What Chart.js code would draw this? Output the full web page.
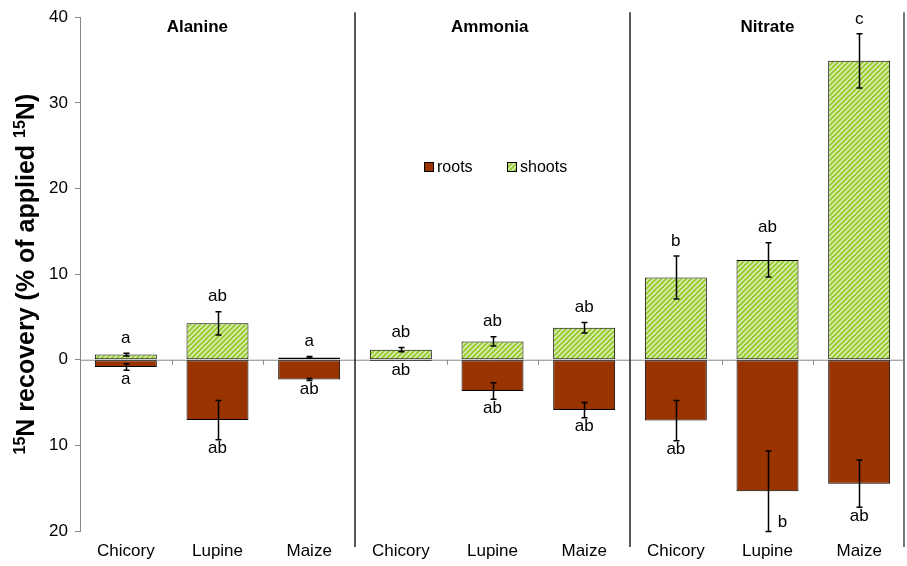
<!DOCTYPE html>
<html>
<head>
<meta charset="utf-8">
<script src="https://cdn.jsdelivr.net/npm/chart.js@4"></script>
<style>
  html, body { margin: 0; padding: 0; background: #fff; }
  #wrap { width: 907px; height: 566px; }
</style>
</head>
<body>
<div id="wrap"><canvas id="c" width="907" height="566"></canvas></div>
<script>
// N sources (groups) and plant species within each group
const sources = ['Alanine', 'Ammonia', 'Nitrate'];
const plants = ['Chicory', 'Lupine', 'Maize'];

// 15N recovery (% of applied), roots drawn below zero, shoots above
const rootsMean   = [-0.85, -7.05, -2.3,   -0.15, -3.66, -5.88,   -7.1, -15.36, -14.47];
const rootsErr    = [ 0.38,  2.3,   0.12,   0,     0.96,  0.9,     2.35,  4.7,    2.77];
const shootsMean  = [ 0.6,   4.25,  0.27,   1.17,  2.14,  3.74,    9.6,  11.66,  34.9];
const shootsErr   = [ 0.15,  1.35,  0.1,    0.25,  0.55,  0.62,    2.5,   2.0,    3.16];

// significance letters
const rootsLetters  = ['a', 'ab', 'ab', 'ab', 'ab', 'ab', 'ab', 'b', 'ab'];
const shootsLetters = ['a', 'ab', 'a',  'ab', 'ab', 'ab', 'b',  'ab', 'c'];

// y axis range and tick step
const yMin = -20, yMax = 40, yStep = 10;

const FONT = '"Liberation Sans", Arial, Helvetica, sans-serif';
const labels = sources.flatMap(() => plants);

// diagonal hatch used for the shoot bars
function makeHatch() {
  const n = 5;
  const p = document.createElement('canvas');
  p.width = n; p.height = n;
  const g = p.getContext('2d');
  g.fillStyle = '#e4f1c6';
  g.fillRect(0, 0, n, n);
  g.strokeStyle = '#99cc33';
  g.lineWidth = 2.2;
  g.beginPath();
  g.moveTo(-1, n + 1); g.lineTo(n + 1, -1);
  g.moveTo(-1, 1); g.lineTo(1, -1);
  g.moveTo(n - 1, n + 1); g.lineTo(n + 1, n - 1);
  g.stroke();
  return document.getElementById('c').getContext('2d').createPattern(p, 'repeat');
}
const hatch = makeHatch();

// axis lines, group dividers, error bars, letters, group titles, legend, y title
const decorations = {
  id: 'decorations',
  beforeDatasetsDraw(chart) {
    const { ctx, chartArea: a, scales: { y } } = chart;
    const slot = (a.right - a.left) / labels.length;
    const y0 = y.getPixelForValue(0);
    ctx.save();
    ctx.strokeStyle = '#888';
    ctx.lineWidth = 1;
    ctx.beginPath();
    ctx.moveTo(a.left, y0 + 0.5); ctx.lineTo(a.right, y0 + 0.5);
    for (let i = 1; i < labels.length; i++) {
      if (i % plants.length === 0) continue;
      const x = Math.round(a.left + i * slot) + 0.5;
      ctx.moveTo(x, y0); ctx.lineTo(x, y0 + 5);
    }
    ctx.stroke();
    ctx.restore();
  },
  afterDatasetsDraw(chart) {
    const { ctx, chartArea: a, scales: { x, y } } = chart;
    const slot = (a.right - a.left) / labels.length;
    ctx.save();

    // group dividers and right frame
    ctx.strokeStyle = '#222';
    ctx.lineWidth = 1.5;
    ctx.beginPath();
    for (let g = 1; g < sources.length; g++) {
      const xd = Math.round(a.left + g * plants.length * slot);
      ctx.moveTo(xd, a.top - 5); ctx.lineTo(xd, a.bottom + 16);
    }
    ctx.stroke();
    ctx.strokeStyle = '#777';
    ctx.lineWidth = 2;
    ctx.beginPath();
    ctx.moveTo(a.right - 1, a.top - 5); ctx.lineTo(a.right - 1, a.bottom + 16);
    ctx.stroke();

    // error bars
    ctx.strokeStyle = '#000';
    ctx.lineWidth = 1.5;
    const cap = 3;
    function errBar(cx, v, e) {
      if (!e) return;
      const t = y.getPixelForValue(v + e), b = y.getPixelForValue(v - e);
      ctx.beginPath();
      ctx.moveTo(cx, t); ctx.lineTo(cx, b);
      ctx.moveTo(cx - cap, t); ctx.lineTo(cx + cap, t);
      ctx.moveTo(cx - cap, b); ctx.lineTo(cx + cap, b);
      ctx.stroke();
    }
    labels.forEach((_, i) => {
      const cx = Math.round(x.getPixelForValue(i)) + 0.5;
      errBar(cx, shootsMean[i], shootsErr[i]);
      errBar(cx, rootsMean[i], rootsErr[i]);
    });

    // significance letters
    ctx.fillStyle = '#000';
    ctx.font = '17px ' + FONT;
    ctx.textAlign = 'center';
    ctx.textBaseline = 'middle';
    labels.forEach((_, i) => {
      const cx = x.getPixelForValue(i);
      const top = y.getPixelForValue(shootsMean[i] + shootsErr[i]);
      ctx.fillText(shootsLetters[i], cx, top - 15);
      const bot = y.getPixelForValue(rootsMean[i] - rootsErr[i]);
      if (bot + 10 > a.bottom - 4) {
        ctx.fillText(rootsLetters[i], cx + 15, bot - 9);
      } else {
        ctx.fillText(rootsLetters[i], cx, bot + 9);
      }
    });

    // group titles
    ctx.font = 'bold 17px ' + FONT;
    const titleAt = [0.78, 3.97, 7.0];
    sources.forEach((s, g) => {
      ctx.fillText(s, a.left + (titleAt[g] + 0.5) * slot, a.top + 10);
    });

    // legend
    ctx.font = '16px ' + FONT;
    ctx.textAlign = 'left';
    const ly = 167;
    const entries = [
      { text: 'roots', fill: '#993300', x: 424 },
      { text: 'shoots', fill: hatch, x: 507 }
    ];
    entries.forEach(en => {
      ctx.fillStyle = en.fill;
      ctx.fillRect(en.x, ly - 5, 10, 10);
      ctx.lineWidth = 1;
      ctx.strokeStyle = '#000';
      ctx.strokeRect(en.x + 0.5, ly - 4.5, 9, 9);
      ctx.fillStyle = '#000';
      ctx.fillText(en.text, en.x + 13, ly + 1);
    });

    // y axis title with superscript isotope mass
    const big = 'bold 25px ' + FONT, small = 'bold 16px ' + FONT;
    const parts = [
      { t: '15', f: small, dy: -9 },
      { t: 'N recovery (% of applied ', f: big, dy: 0 },
      { t: '15', f: small, dy: -9 },
      { t: 'N)', f: big, dy: 0 }
    ];
    let total = 0;
    parts.forEach(p => { ctx.font = p.f; p.w = ctx.measureText(p.t).width; total += p.w; });
    ctx.translate(34, (a.top + a.bottom) / 2);
    ctx.rotate(-Math.PI / 2);
    ctx.textBaseline = 'alphabetic';
    let px = -total / 2;
    parts.forEach(p => {
      ctx.font = p.f;
      ctx.fillText(p.t, px, p.dy);
      px += p.w;
    });
    ctx.restore();
  }
};

new Chart(document.getElementById('c'), {
  type: 'bar',
  data: {
    labels: labels,
    datasets: [
      {
        label: 'roots',
        data: rootsMean,
        backgroundColor: '#993300',
        borderColor: '#000',
        borderWidth: 1,
        borderSkipped: false,
        barPercentage: 0.676,
        categoryPercentage: 1
      },
      {
        label: 'shoots',
        data: shootsMean,
        backgroundColor: hatch,
        borderColor: '#000',
        borderWidth: 1,
        borderSkipped: false,
        barPercentage: 0.676,
        categoryPercentage: 1
      }
    ]
  },
  options: {
    responsive: false,
    animation: false,
    devicePixelRatio: 1,
    layout: { padding: { top: 17, right: 2, left: 0, bottom: 0 } },
    plugins: { legend: { display: false }, tooltip: { enabled: false } },
    scales: {
      x: {
        stacked: true,
        grid: { display: false, drawTicks: false },
        border: { display: false },
        ticks: { color: '#000', font: { size: 17, family: FONT }, padding: 10, maxRotation: 0, autoSkip: false },
        afterFit(s) { s.height = 35; }
      },
      y: {
        stacked: true,
        min: yMin,
        max: yMax,
        ticks: {
          stepSize: yStep,
          color: '#000',
          font: { size: 17, family: FONT },
          padding: 7,
          callback: v => Math.abs(v)
        },
        grid: { drawOnChartArea: false, tickLength: 5, color: '#888' },
        border: { color: '#888', width: 1 },
        afterFit(s) { s.width = 80; }
      }
    }
  },
  plugins: [decorations]
});
</script>
</body>
</html>
